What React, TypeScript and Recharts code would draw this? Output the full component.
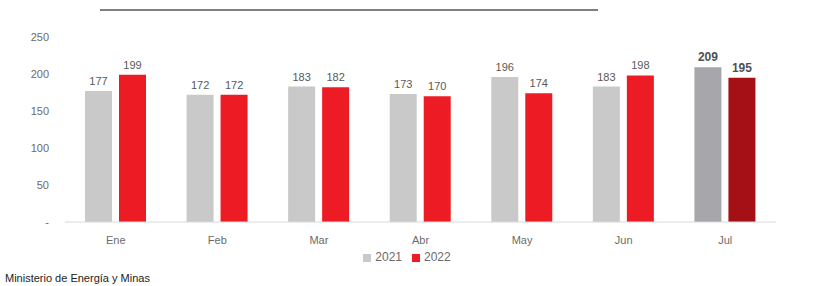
import React from "react";
import { BarChart, Bar, XAxis, YAxis, Legend, LabelList, Cell } from "recharts";

const categories = ["Ene", "Feb", "Mar", "Abr", "May", "Jun", "Jul"];
const values2021 = [177, 172, 183, 173, 196, 183, 209];
const values2022 = [199, 172, 182, 170, 174, 198, 195];
const yTicks = [0, 50, 100, 150, 200, 250];

const data = categories.map((m, i) => ({ m, a: values2021[i], b: values2022[i] }));

const FONT = "'Liberation Sans', Arial, sans-serif";
const TXT = "#6b6b6b";
const GRAY = "#c9c9c9";
const RED = "#ed1c24";
const GRAY_DARK = "#a6a6ab";
const RED_DARK = "#a50f16";

const makeLabel = (n: number) => (props: any) => {
  const { x, y, width, value, index } = props;
  const last = index === n - 1;
  return (
    <text
      x={x + width / 2}
      y={y - 6}
      textAnchor="middle"
      fill={last ? "#505050" : "#595959"}
      fontSize={last ? 12 : 11}
      fontWeight={last ? 700 : 400}
      fontFamily={FONT}
    >
      {value}
    </text>
  );
};

const YTick = (props: any) => {
  const { x, y, payload } = props;
  return (
    <text x={x - 8} y={y} dy={4} textAnchor="end" fill={TXT} fontSize={11} fontFamily={FONT}>
      {payload.value === 0 ? "-" : String(payload.value)}
    </text>
  );
};

const XTick = (props: any) => {
  const { x, y, payload } = props;
  return (
    <text x={x} y={y} dy={14} textAnchor="middle" fill={TXT} fontSize={11} fontFamily={FONT}>
      {payload.value}
    </text>
  );
};

export default function App() {
  return (
    <div style={{ position: "absolute", left: 0, top: 0, width: 817, height: 286, background: "#fff", fontFamily: FONT }}>
      <div style={{ position: "absolute", left: 100, top: 9, width: 498, height: 2, background: "#7f7f7f" }} />
      <BarChart
        width={817}
        height={286}
        data={data}
        margin={{ top: 37, right: 41, left: 0, bottom: 34 }}
        barSize={27}
        barGap={7}
      >
        <XAxis
          dataKey="m"
          height={30}
          axisLine={{ stroke: "#d9d9d9" }}
          tickLine={false}
          tick={<XTick />}
        />
        <YAxis
          width={65}
          domain={[0, 250]}
          ticks={yTicks}
          axisLine={false}
          tickLine={false}
          tick={<YTick />}
        />
        <Legend
          layout="horizontal"
          verticalAlign="middle"
          align="center"
          iconType="square"
          iconSize={8}
          formatter={(v: string) => <span style={{ color: TXT }}>{v}</span>}
          wrapperStyle={{ top: 250, left: 24, fontSize: 12, fontFamily: FONT }}
        />
        <Bar dataKey="a" name="2021" fill={GRAY} isAnimationActive={false}>
          {data.map((_, i) => (
            <Cell key={i} fill={i === data.length - 1 ? GRAY_DARK : GRAY} />
          ))}
          <LabelList dataKey="a" content={makeLabel(data.length)} />
        </Bar>
        <Bar dataKey="b" name="2022" fill={RED} isAnimationActive={false}>
          {data.map((_, i) => (
            <Cell key={i} fill={i === data.length - 1 ? RED_DARK : RED} />
          ))}
          <LabelList dataKey="b" content={makeLabel(data.length)} />
        </Bar>
      </BarChart>
      <div style={{ position: "absolute", left: 5, top: 272, fontSize: 11, color: "#222", fontFamily: FONT }}>
        Ministerio de Energía y Minas
      </div>
    </div>
  );
}
